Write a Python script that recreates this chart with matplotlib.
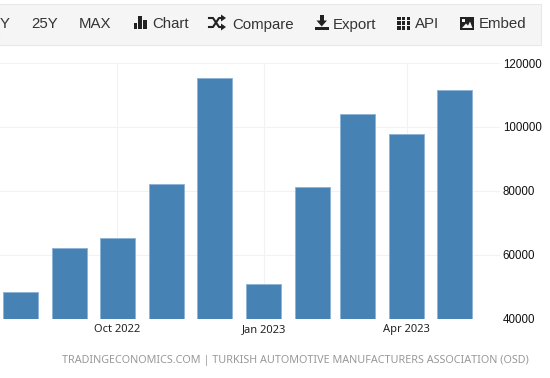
import matplotlib
matplotlib.use('Agg')
import matplotlib.pyplot as plt
import matplotlib.dates as mdates
from matplotlib.patches import Rectangle, Polygon
import pandas as pd

months = pd.date_range('2022-08-01', '2023-05-01', freq='MS')
values = [48400, 62100, 65200, 82100, 115300, 50800, 81200, 104000, 97800, 111500]
y_ticks = [40000, 60000, 80000, 100000, 120000]
x_ticks = ['2022-10-01', '2023-01-01', '2023-04-01']
x_labels = ['Oct 2022', 'Jan 2023', 'Apr 2023']
toolbar = [('Y', 0), ('25Y', 31), ('MAX', 79), ('Chart', 152), ('Compare', 232),
           ('Export', 333), ('API', 415), ('Embed', 479)]
source = 'TRADINGECONOMICS.COM | TURKISH AUTOMOTIVE MANUFACTURERS ASSOCIATION (OSD)'

W, H = 550, 378
px_per_day = 1.59

fig = plt.figure(figsize=(W / 100, H / 100), dpi=100)

# chart area, pixel box
ax = fig.add_axes([0, 1 - 318.5 / H, 500 / W, 255.5 / H])
left = mdates.date2num(pd.Timestamp('2022-10-01')) - 117.4 / px_per_day
ax.set_xlim(left, left + 500 / px_per_day)
ax.set_ylim(40000, 120000)
ax.bar(mdates.date2num(months), values, width=22, color='#4682b4',
       edgecolor='#8fb4d6', linewidth=0.7, zorder=3)
ax.yaxis.tick_right()
ax.set_yticks(y_ticks)
ax.set_xticks(mdates.date2num(pd.to_datetime(x_ticks)))
ax.set_xticklabels(x_labels, fontsize=8.0, color='#222222', family='Noto Sans', va='baseline')
ax.tick_params(axis='x', length=0, pad=10)
ax.tick_params(axis='y', length=0, pad=2, labelsize=8.3, labelcolor='#111111')
for lab in ax.get_yticklabels():
    lab.set_family('Liberation Sans')
ax.grid(True, color='#f2f2f2', linewidth=0.8, zorder=0)
ax.set_axisbelow(True)
for s in ax.spines.values():
    s.set_visible(False)

# toolbar and footer, drawn in pixels
top = fig.add_axes([0, 0, 1, 1], zorder=5)
top.set_xlim(0, W)
top.set_ylim(H, 0)
top.axis('off')
top.add_patch(Rectangle((-1, 3.5), 542, 41, facecolor='#f5f5f5', edgecolor='#e8e8e8', linewidth=0.8))
for name, x in toolbar:
    top.text(x, 28.5, name, fontsize=10.8, color='#333333', family='Liberation Sans',
             ha='left', va='baseline')

ink = '#222222'
# chart icon
for x, y0, h in [(133.5, 23, 6), (138.2, 16, 13), (142.9, 20, 9)]:
    top.add_patch(Rectangle((x, y0), 3.6, h, color=ink, lw=0))
# compare icon
top.plot([209, 213, 219, 223], [18, 18, 27, 27], color=ink, lw=1.5)
top.plot([209, 213, 219, 223], [27, 27, 18, 18], color=ink, lw=1.5)
top.add_patch(Polygon([(221, 14.5), (226, 18), (221, 21.5)], color=ink, lw=0))
top.add_patch(Polygon([(221, 23.5), (226, 27), (221, 30.5)], color=ink, lw=0))
# export icon
top.add_patch(Rectangle((320, 14.5), 3.5, 7, color=ink, lw=0))
top.add_patch(Polygon([(316.5, 20.5), (327, 20.5), (321.7, 26.5)], color=ink, lw=0))
top.add_patch(Rectangle((315, 26.5), 13.5, 3.5, color=ink, lw=0))
# api icon
for i in range(3):
    for j in range(3):
        top.add_patch(Rectangle((397 + i * 4.8, 16.5 + j * 4.8), 3.6, 3.6, color=ink, lw=0))
# embed icon
top.add_patch(Rectangle((460, 16.5), 14, 13, color=ink, lw=0))
top.add_patch(Rectangle((462, 18.5), 3, 3, color='#f5f5f5', lw=0))
top.add_patch(Polygon([(462, 28), (466, 23.5), (468, 25.5), (470, 21.5), (472.5, 28)], color='#f5f5f5', lw=0))

top.text(62, 363, source, fontsize=7.8, color='#999999', family='Noto Sans',
         ha='left', va='baseline')

fig.savefig('out.png', dpi=100)
